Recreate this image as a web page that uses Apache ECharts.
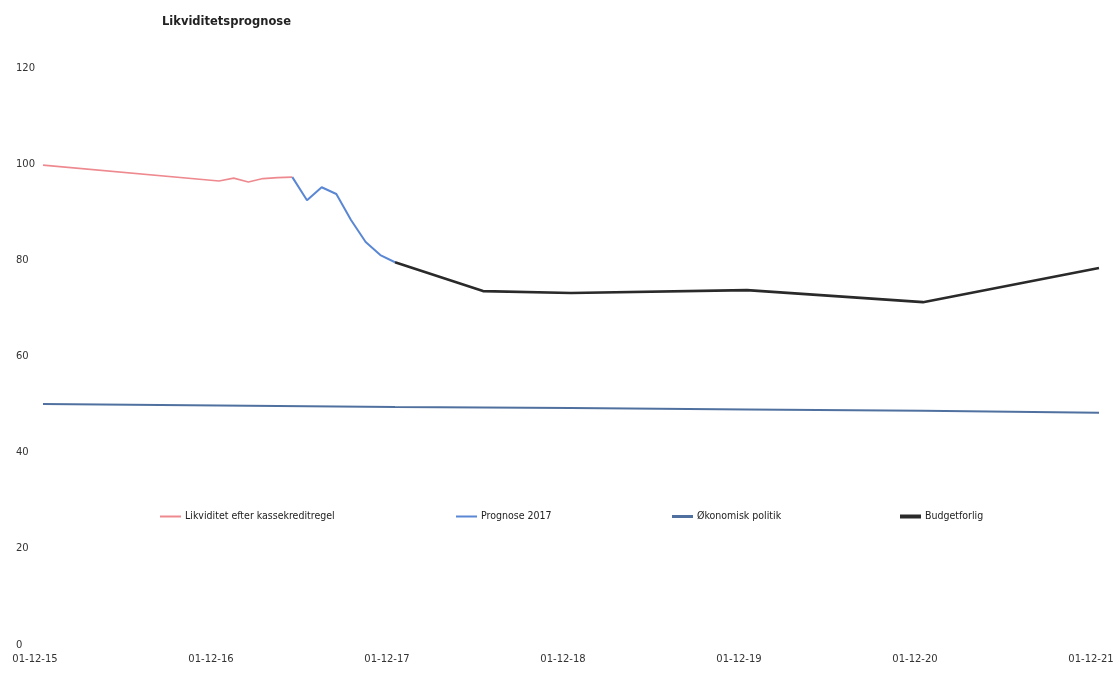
<!DOCTYPE html>
<html>
<head>
<meta charset="utf-8">
<script src="https://cdn.jsdelivr.net/npm/echarts@6/dist/echarts.min.js"></script>
<style>html,body{margin:0;padding:0;background:#fff}#c{width:1120px;height:674px}</style>
</head>
<body>
<div id="c"></div>
<script>
// x positions are months after 01-12-15
var tickLabels = ['01-12-15','01-12-16','01-12-17','01-12-18','01-12-19','01-12-20','01-12-21'];
var seriesNames = ['Likviditet efter kassekreditregel','Prognose 2017','Økonomisk politik','Budgetforlig'];

var likvMonths = [0, 12, 13, 14, 15, 16, 17];
var likvValues = [99.8, 96.5, 97.1, 96.3, 97.0, 97.2, 97.3];

var progMonths = [17, 18, 19, 20, 21, 22, 23, 24];
var progValues = [97.3, 92.5, 95.2, 93.8, 88.4, 83.8, 81.1, 79.6];

var okoMonths = [0, 12, 24, 36, 48, 60, 72];
var okoValues = [50.1, 49.8, 49.5, 49.3, 49.0, 48.7, 48.3];

var budMonths = [24, 30, 36, 48, 60, 72];
var budValues = [79.6, 73.6, 73.2, 73.8, 71.3, 78.4];

function pairs(xs, ys){ return xs.map(function(x,i){ return [x, ys[i]]; }); }

var colors = ['#ee8a8f', '#5a87d4', '#50719f', '#2a2a2a'];
var widths = [1.6, 2, 2, 2.6];
var legendH = [2, 2, 3, 4];
var dataSets = [pairs(likvMonths, likvValues), pairs(progMonths, progValues), pairs(okoMonths, okoValues), pairs(budMonths, budValues)];
var legendLeft = [160, 456, 672, 900];

var chart = echarts.init(document.getElementById('c'));
chart.setOption({
  animation: false,
  backgroundColor: '#fff',
  title: {
    text: 'Likviditetsprognose',
    left: 157, top: 11,
    textStyle: { fontSize: 11.5, fontWeight: 'bold', color: '#222', fontFamily: 'DejaVu Sans' }
  },
  legend: seriesNames.map(function(n, i){
    return {
      data: [n], left: legendLeft[i], top: 511, padding: 0,
      itemWidth: 21, itemHeight: legendH[i], itemGap: 4, icon: 'rect',
      textStyle: { fontSize: 10.5, color: '#222', fontFamily: 'DejaVu Sans Condensed, DejaVu Sans', padding: [0, 0, 0, -1] }
    };
  }),
  grid: { left: 43, right: 21, top: 68, bottom: 29 },
  xAxis: {
    type: 'value', min: 0, max: 72, interval: 12,
    axisLine: { show: false }, axisTick: { show: false }, splitLine: { show: false },
    axisLabel: {
      margin: 9, fontSize: 10, color: '#333', fontFamily: 'DejaVu Sans',
      padding: [0, 16, 0, 0],
      formatter: function(v){ return tickLabels[Math.round(v/12)] || ''; }
    }
  },
  yAxis: {
    type: 'value', min: 0, max: 120, interval: 20,
    axisLine: { show: false }, axisTick: { show: false }, splitLine: { show: false },
    axisLabel: { margin: 27, align: 'left', fontSize: 10, color: '#333', fontFamily: 'DejaVu Sans' }
  },
  series: seriesNames.map(function(n, i){
    return {
      name: n, type: 'line', data: dataSets[i], showSymbol: false, symbol: 'none',
      lineStyle: { color: colors[i], width: widths[i] },
      itemStyle: { color: colors[i] }
    };
  })
});
</script>
</body>
</html>
